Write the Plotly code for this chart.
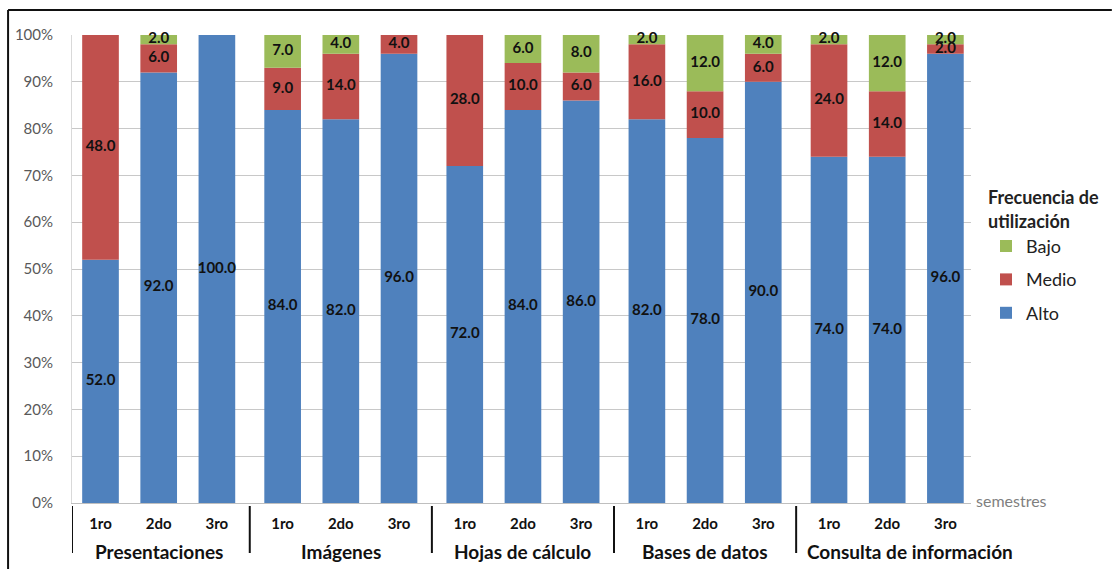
import plotly.graph_objects as go

# --- data -------------------------------------------------------------
herramientas = ["Presentaciones", "Imágenes", "Hojas de cálculo",
                "Bases de datos", "Consulta de información"]
semestres = ["1ro", "2do", "3ro"]

# percentages per tool, ordered 1ro, 2do, 3ro
alto = [52, 92, 100, 84, 82, 96, 72, 84, 86, 82, 78, 90, 74, 74, 96]
medio = [48, 6, 0, 9, 14, 4, 28, 10, 6, 16, 10, 6, 24, 14, 2]
bajo = [0, 2, 0, 7, 4, 0, 0, 6, 8, 2, 12, 4, 2, 12, 2]

# (name, values, colour, legend rank) stacked bottom to top
series = [("Alto", alto, "#4F81BD", 3),
          ("Medio", medio, "#C0504D", 2),
          ("Bajo", bajo, "#9BBB59", 1)]

# --- layout geometry --------------------------------------------------
W, H = 1113, 569
ML, MR, MT, MB = 72, 141, 35, 66
PW, PH = W - ML - MR, H - MT - MB
GROUP_STEP = 3.13          # spacing between tool groups, in bar units
X_RANGE = [-0.49, 14.96]
FONT = "Lato, 'Open Sans', sans-serif"


def px_x(px):
    return (px - ML) / PW


def px_y(py):
    return (H - MB - py) / PH


xpos = [g * GROUP_STEP + s for g in range(len(herramientas))
        for s in range(len(semestres))]

fig = go.Figure()

base = [0] * len(xpos)
label_x, label_y, label_t = [], [], []
for name, vals, color, rank in series:
    fig.add_trace(go.Bar(
        x=xpos, y=vals, base=base, name=name, marker_color=color,
        marker_line_width=0, width=0.63, legendgroup=name,
        legendrank=rank, hoverinfo="skip",
    ))
    for xi, b, v in zip(xpos, base, vals):
        if v > 0:
            label_x.append(xi)
            label_y.append(b + v / 2)
            label_t.append(f"{v:.1f}")
    base = [b + v for b, v in zip(base, vals)]

# centred value labels
fig.add_trace(go.Scatter(
    x=label_x, y=label_y, text=label_t, mode="text",
    textfont=dict(family=FONT, size=15, color="#111111", weight="bold"),
    showlegend=False, hoverinfo="skip", cliponaxis=False,
))

# group dividers and group names under the semester labels
shapes = []
annotations = []
div_y0, div_y1 = px_y(506), px_y(553)
dividers = [X_RANGE[0]]
for g in range(1, len(herramientas)):
    dividers.append((g * GROUP_STEP + (g - 1) * GROUP_STEP + 2) / 2)
for xd in dividers:
    shapes.append(dict(type="line", xref="x", yref="paper",
                       x0=xd, x1=xd, y0=div_y0, y1=div_y1,
                       line=dict(color="#111111", width=2)))

last = len(herramientas) - 1
for g, nombre in enumerate(herramientas):
    if g == last:
        # the widest name starts just right of its divider
        pos = dict(x=dividers[g], xanchor="left", xshift=9)
    else:
        pos = dict(x=g * GROUP_STEP + 1, xanchor="center")
    annotations.append(dict(
        **pos, y=px_y(551), xref="x", yref="paper",
        text=nombre, showarrow=False, yanchor="middle",
        font=dict(family=FONT, size=19, color="#111111", weight="bold"),
    ))

# axis title at the right end of the category axis
annotations.append(dict(
    x=1.0, y=px_y(500), xref="paper", yref="paper", text="semestres",
    showarrow=False, xanchor="left", yanchor="middle", xshift=3,
    font=dict(family=FONT, size=16, color="#7f7f7f"),
))

# outer frame (left and top edges)
shapes.append(dict(type="line", xref="paper", yref="paper",
                   x0=px_x(8), x1=px_x(8), y0=px_y(10), y1=px_y(H),
                   line=dict(color="#111111", width=2)))
shapes.append(dict(type="line", xref="paper", yref="paper",
                   x0=px_x(8), x1=px_x(W), y0=px_y(10), y1=px_y(10),
                   line=dict(color="#111111", width=2)))

fig.update_layout(
    width=W, height=H,
    margin=dict(l=ML, r=MR, t=MT, b=MB, pad=0),
    paper_bgcolor="white", plot_bgcolor="white",
    barmode="overlay",
    font=dict(family=FONT, color="#111111"),
    shapes=shapes, annotations=annotations,
    legend=dict(
        title=dict(text="<b>Frecuencia de<br>utilización</b>",
                   font=dict(family=FONT, size=18, color="#222222")),
        font=dict(family=FONT, size=18, color="#222222"),
        traceorder="grouped", tracegroupgap=7,
        x=px_x(986), xanchor="left", y=px_y(181), yanchor="top",
        bgcolor="rgba(0,0,0,0)",
    ),
    xaxis=dict(
        range=X_RANGE, tickvals=xpos,
        ticktext=semestres * len(herramientas),
        tickfont=dict(family=FONT, size=15, color="#111111", weight="bold"),
        ticks="", ticklabelstandoff=7,
        showgrid=False, zeroline=False,
        showline=True, linecolor="#bfbfbf", linewidth=1,
        fixedrange=True,
    ),
    yaxis=dict(
        range=[0, 100], tickvals=list(range(0, 101, 10)),
        ticktext=[f"{v}%" for v in range(0, 101, 10)],
        tickfont=dict(family=FONT, size=15, color="#595959"),
        ticks="", ticklabelstandoff=15,
        showgrid=True, gridcolor="#c8c8c8", gridwidth=1,
        zeroline=False, showline=True, linecolor="#d9d9d9", linewidth=1,
        fixedrange=True,
    ),
)

fig.write_html("out.html")
